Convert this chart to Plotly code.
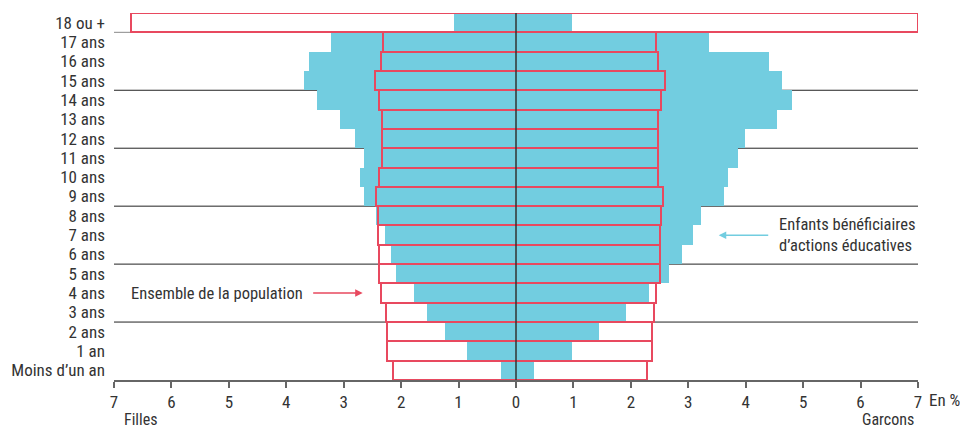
import plotly.graph_objects as go

ages = ["Moins d’un an", "1 an", "2 ans", "3 ans", "4 ans", "5 ans", "6 ans", "7 ans",
        "8 ans", "9 ans", "10 ans", "11 ans", "12 ans", "13 ans", "14 ans", "15 ans",
        "16 ans", "17 ans", "18 ou +"]

# Enfants bénéficiaires d'actions éducatives (%)
enf_filles = [0.26, 0.85, 1.24, 1.55, 1.78, 2.09, 2.18, 2.28, 2.43, 2.65, 2.72, 2.65,
              2.80, 3.07, 3.47, 3.69, 3.61, 3.22, 1.08]
enf_garcons = [0.32, 0.98, 1.45, 1.91, 2.31, 2.66, 2.89, 3.08, 3.23, 3.63, 3.70, 3.86,
               3.98, 4.55, 4.80, 4.64, 4.40, 3.36, 0.97]

# Ensemble de la population (%)
pop_filles = [2.15, 2.24, 2.24, 2.27, 2.35, 2.39, 2.39, 2.40, 2.40, 2.43, 2.39, 2.34,
              2.34, 2.34, 2.39, 2.46, 2.35, 2.31, 6.71]
pop_garcons = [2.28, 2.36, 2.36, 2.40, 2.44, 2.51, 2.51, 2.51, 2.52, 2.56, 2.48, 2.48,
               2.48, 2.48, 2.52, 2.59, 2.48, 2.44, 7.00]

tick_vals = [-7, -6, -5, -4, -3, -2, -1, 0, 1, 2, 3, 4, 5, 6, 7]
tick_text = ["7", "6", "5", "4", "3", "2", "1", "0", "1", "2", "3", "4", "5", "6", "7"]

BLUE = "#72CDE0"
RED = "#E8495F"
TXT = "#333333"
FONT = "Roboto Condensed, Roboto, sans-serif"

fig = go.Figure()
fig.add_trace(go.Bar(y=ages, x=[-v for v in enf_filles], orientation="h",
                     marker=dict(color=BLUE, line=dict(width=0)), width=1, name="Filles"))
fig.add_trace(go.Bar(y=ages, x=enf_garcons, orientation="h",
                     marker=dict(color=BLUE, line=dict(width=0)), width=1, name="Garçons"))
fig.add_trace(go.Bar(y=ages, x=[f + g for f, g in zip(pop_filles, pop_garcons)],
                     base=[-f for f in pop_filles], orientation="h",
                     marker=dict(color="rgba(0,0,0,0)", line=dict(color=RED, width=2)),
                     width=1, name="Ensemble"))

shapes = []
for yb in [2.5, 5.5, 8.5, 11.5, 14.5, 17.5]:
    shapes.append(dict(type="line", xref="x", yref="y", x0=-7, x1=7, y0=yb, y1=yb,
                       line=dict(color="#888888" if yb == 17.5 else "#222222", width=1),
                       layer="below"))
shapes.append(dict(type="line", xref="x", yref="y", x0=0, x1=0, y0=-0.5, y1=18.5,
                   line=dict(color="#333333", width=1.5), layer="above"))

annotations = [
    dict(x=-2.67, y="4 ans", xref="x", yref="y", ax=-51, ay=0, text="",
         showarrow=True, arrowhead=2, arrowsize=1, arrowwidth=1.5, arrowcolor=RED),
    dict(x=-3.68, y="4 ans", xref="x", yref="y", text="Ensemble de la population",
         showarrow=False, xanchor="right", yanchor="middle",
         font=dict(size=16.5, color=TXT, family=FONT)),
    dict(x=3.53, y="7 ans", xref="x", yref="y", ax=51, ay=0, text="",
         showarrow=True, arrowhead=2, arrowsize=1, arrowwidth=1.5, arrowcolor=BLUE),
    dict(x=4.55, y="7 ans", xref="x", yref="y",
         text="Enfants bénéficiaires<br>d’actions éducatives",
         showarrow=False, xanchor="left", yanchor="middle", align="left",
         font=dict(size=16.5, color=TXT, family=FONT)),
    dict(x=1.011, y=-0.055, xref="paper", yref="paper", text="En %", showarrow=False,
         xanchor="left", yanchor="middle", font=dict(size=17, color=TXT, family=FONT)),
    dict(x=0.0335, y=-0.139, xref="paper", yref="paper", text="Filles", showarrow=False,
         xanchor="center", yanchor="bottom", font=dict(size=16, color=TXT, family=FONT)),
    dict(x=0.997, y=-0.139, xref="paper", yref="paper", text="Garcons", showarrow=False,
         xanchor="right", yanchor="bottom", font=dict(size=16, color=TXT, family=FONT)),
]

fig.update_layout(
    width=960, height=431,
    margin=dict(l=114, r=42, t=13, b=51),
    paper_bgcolor="white", plot_bgcolor="white",
    barmode="overlay", bargap=0, showlegend=False,
    font=dict(family=FONT, size=17, color=TXT),
    shapes=shapes, annotations=annotations,
    xaxis=dict(range=[-7, 7], tickvals=tick_vals, ticktext=tick_text,
               showgrid=False, zeroline=False, showline=True, linecolor="#666666",
               linewidth=1.5, ticks="outside", ticklen=6, tickcolor="#666666",
               tickwidth=1.5, tickfont=dict(size=17, color=TXT, family=FONT)),
    yaxis=dict(type="category", categoryorder="array", categoryarray=ages,
               tickmode="array", tickvals=ages, ticktext=ages,
               range=[-0.5, 18.5], showgrid=False, zeroline=False, showline=False,
               ticks="", ticklabelstandoff=8,
               tickfont=dict(size=17, color=TXT, family=FONT)),
)

fig.write_html("out.html", config={"displayModeBar": False},
               post_script="document.body.style.margin='0';")
